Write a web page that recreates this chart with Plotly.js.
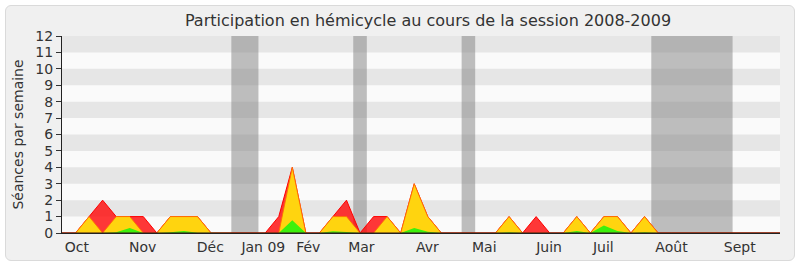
<!DOCTYPE html>
<html><head><meta charset="utf-8">
<script src="https://cdn.plot.ly/plotly-3.0.1.min.js"></script>
<style>
html,body{margin:0;padding:0;background:#fff;}
#frame{position:absolute;left:5px;top:5px;width:788px;height:254px;border:1px solid #dadada;border-radius:6px;background:#f0f0f0;}
#chart{position:absolute;left:0;top:0;width:800px;height:267px;}
</style></head><body>
<div id="frame"></div><div id="chart"></div>
<script>
// week index of the session (0 = first week of Oct 2008)
const weeks = [0,1,2,3,4,5,6,7,8,9,10,11,12,13,14,15,16,17,18,19,20,21,22,23,24,25,26,27,28,29,30,31,32,33,34,35,36,37,38,39,40,41,42,43,44,45,46,47,48,49,50,51,52,53];
// total séances (red)
const seancesTotal = [0,0,1,2,1,1,1,0,1,1,1,0,0,0,0,0,1,4,0,0,1,2,0,1,1,0,3,1,0,0,0,0,0,1,0,1,0,0,1,0,1,1,0,1,0,0,0,0,0,0,0,0,0,0];
// séances avec intervention (yellow)
const seancesIntervention = [0,0,1,0,1,1,0,0,1,1,1,0,0,0,0,0,0,4,0,0,1,1,0,0,1,0,3,1,0,0,0,0,0,1,0,0,0,0,1,0,1,1,0,1,0,0,0,0,0,0,0,0,0,0];
// interventions longues (green)
const seancesLongues = [0,0,0,0,0.05,0.3,0,0,0.05,0.12,0.02,0,0,0,0,0,0,0.77,0,0,0.1,0.06,0,0,0,0,0.3,0.08,0,0,0,0,0,0.05,0,0,0,0,0.12,0,0.45,0.12,0,0.05,0,0,0,0,0,0,0,0,0,0];
// month tick labels and the week where they sit
const monthLabels = ['Oct','Nov','Déc','Jan 09','Fév','Mar','Avr','Mai','Juin','Juil','Août','Sept'];
const monthWeeks = [1.1,5.95,10.95,14.86,18.18,22.1,26.97,31.17,35.95,39.96,44.99,50.03];
// parliamentary holidays (week ranges)
const vacStart = [12.5,21.5,29.5,43.5];
const vacEnd = [14.5,22.5,30.5,49.5];
const yStripes = [1,3,5,7,9,11];

const FONT = 'DejaVu Sans, Verdana, sans-serif';
const shapes = [];
yStripes.forEach(k => shapes.push({type:'rect', xref:'paper', yref:'y', x0:0, x1:1, y0:k, y1:k+1, fillcolor:'#e6e6e6', line:{width:0}, layer:'below'}));
vacStart.forEach((s,i) => shapes.push({type:'rect', xref:'x', yref:'paper', x0:s, x1:vacEnd[i], y0:0, y1:1, fillcolor:'rgba(128,128,128,0.5)', line:{width:0}, layer:'below'}));
// dark baseline drawn over the series' zero lines
shapes.push({type:'line', xref:'paper', yref:'y', x0:0, x1:1, y0:0, y1:0, line:{color:'#3a1212', width:1}, layer:'above'});

const traces = [
  {x:weeks, y:seancesTotal, type:'scatter', mode:'lines', fill:'tozeroy', fillcolor:'rgba(255,0,0,0.78)', line:{color:'#ff0000', width:1}, hoverinfo:'skip'},
  {x:weeks, y:seancesIntervention, type:'scatter', mode:'lines', fill:'tozeroy', fillcolor:'#ffd40f', line:{color:'rgba(255,110,0,0.85)', width:1}, hoverinfo:'skip'},
  {x:weeks, y:seancesLongues, type:'scatter', mode:'lines', fill:'tozeroy', fillcolor:'#3cf00c', line:{color:'rgba(0,0,0,0)', width:0}, hoverinfo:'skip'}
];

const layout = {
  width:800, height:267,
  margin:{l:62, r:20, t:36, b:34, pad:0},
  paper_bgcolor:'rgba(0,0,0,0)', plot_bgcolor:'#fafafa',
  showlegend:false,
  font:{family:FONT, color:'#333'},
  title:{text:'Participation en hémicycle au cours de la session 2008-2009', font:{family:FONT, size:16, color:'#333'}, x:0.535, xanchor:'center', yref:'container', y:0.925, yanchor:'middle'},
  xaxis:{range:[0,53], tickvals:monthWeeks, ticktext:monthLabels, ticks:'outside', ticklen:1, tickcolor:'rgba(0,0,0,0)', showgrid:false, zeroline:false, showline:true, linecolor:'#222', linewidth:1, tickfont:{family:FONT, size:14, color:'#333'}, fixedrange:true},
  xaxis2:{overlaying:'x', anchor:'y', side:'bottom', range:[0,53], tickvals:weeks, ticks:'outside', ticklen:5, tickcolor:'#333', showticklabels:false, showgrid:false, showline:false, zeroline:false, fixedrange:true},
  xaxis3:{overlaying:'x', anchor:'y', side:'top', range:[0,53], tickvals:weeks, ticks:'outside', ticklen:2, tickcolor:'#444', showticklabels:false, showgrid:false, showline:false, zeroline:false, fixedrange:true},
  yaxis:{range:[0,12], tick0:0, dtick:1, ticks:'outside', ticklen:5, tickcolor:'#333', showline:true, linecolor:'#222', linewidth:1, showgrid:false, zeroline:false, tickfont:{family:FONT, size:14, color:'#333'}, title:{text:'Séances par semaine', font:{family:FONT, size:14, color:'#333'}, standoff:8}, fixedrange:true},
  shapes:shapes
};
Plotly.newPlot('chart', traces, layout, {displayModeBar:false, staticPlot:true});
</script>
</body></html>
